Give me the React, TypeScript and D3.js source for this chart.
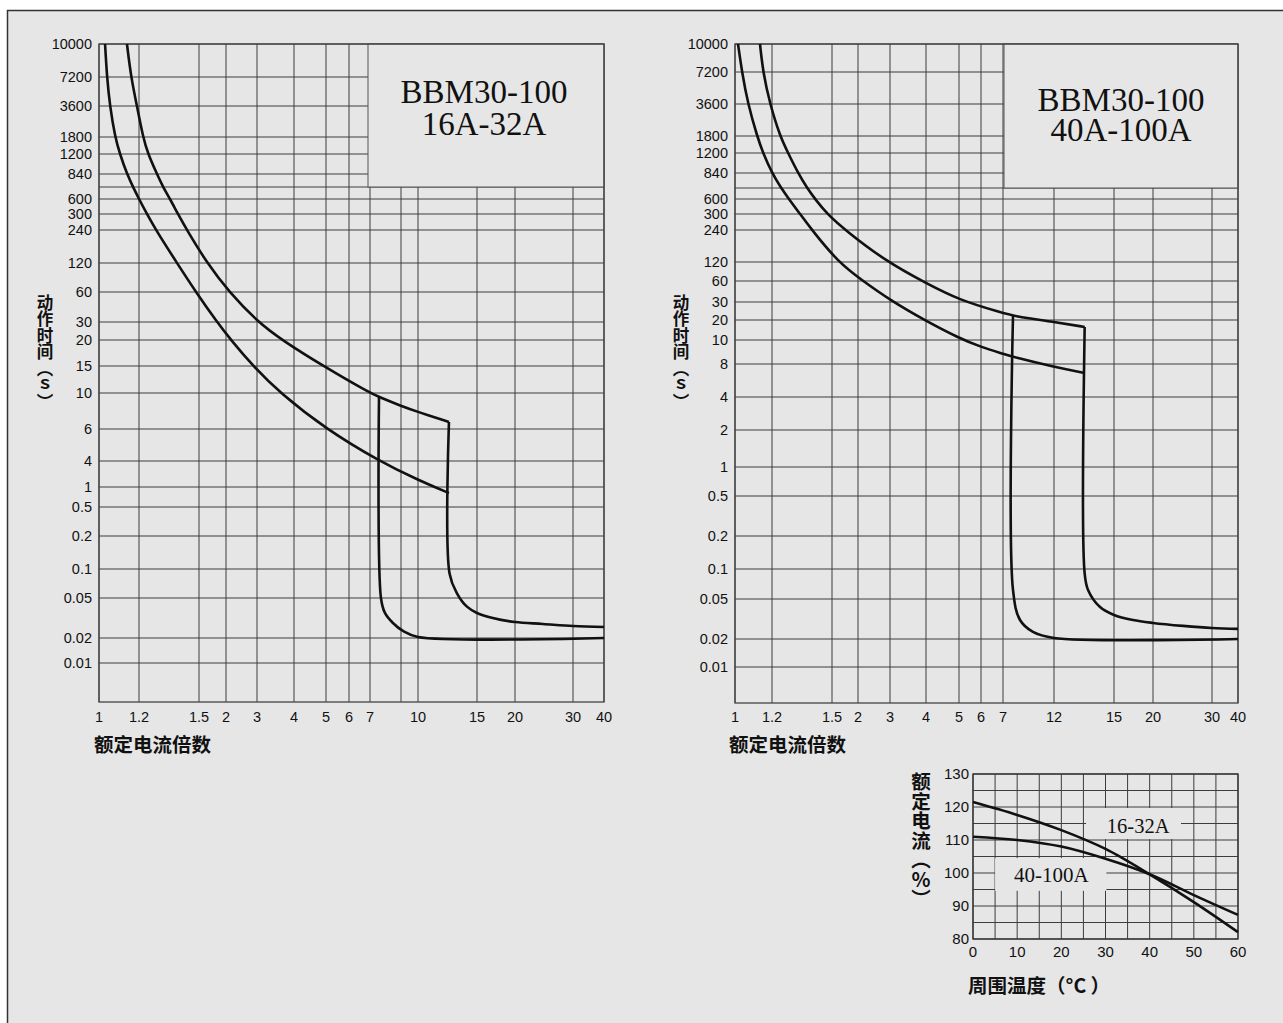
import React from 'react';
import * as d3 from 'd3';

// ---------------- data ----------------
// time-current chart, left (16A-32A)
const leftXTicks = [1, 1.2, 1.5, 2, 3, 4, 5, 6, 7, 9, 10, 15, 20, 30, 40];
const leftXLabels = ['1', '1.2', '1.5', '2', '3', '4', '5', '6', '7', '', '10', '15', '20', '30', '40'];
const leftYTicks = [10000, 7200, 3600, 1800, 1200, 840, 720, 600, 300, 240, 120, 60, 30, 20, 15, 10, 6, 4, 1, 0.5, 0.2, 0.1, 0.05, 0.02, 0.01];
const leftYLabels = ['10000', '7200', '3600', '1800', '1200', '840', '', '600', '300', '240', '120', '60', '30', '20', '15', '10', '6', '4', '1', '0.5', '0.2', '0.1', '0.05', '0.02', '0.01'];

// [multiple of rated current, seconds]
const leftUpper: [number, number][] = [[1.136, 10000], [1.157, 7200], [1.189, 3600], [1.218, 1800], [1.241, 1200], [1.283, 840], [1.312, 720], [1.347, 600], [1.387, 300], [1.434, 240], [1.633, 120], [2.08, 60], [3.02, 30], [3.64, 20], [4.9, 15], [7, 10], [7.53, 9.45], [9, 8.32], [10, 7.64], [12.37, 6.63]];
const leftUpperTail: [number, number][] = [[12.37, 6.63], [12.42, 0.09], [13.07, 0.056], [14.0, 0.041], [15, 0.0355], [16.9, 0.0316], [20, 0.0288], [24.3, 0.0276], [30, 0.0263], [40, 0.0257]];
const leftLower: [number, number][] = [[1.028, 10000], [1.037, 7200], [1.051, 3600], [1.076, 1800], [1.1, 1200], [1.136, 840], [1.168, 720], [1.2, 600], [1.236, 300], [1.278, 240], [1.382, 120], [1.483, 60], [1.817, 30], [2.135, 20], [2.847, 15], [3.588, 10], [5, 6], [7.53, 4], [10, 1.45], [12.37, 0.81]];
const leftInstant: [number, number][] = [[7.53, 9.45], [7.65, 0.05], [7.9, 0.0355], [8.43, 0.0282], [9.11, 0.0235], [10, 0.0205], [40, 0.02]];

// time-current chart, right (40A-100A)
const rightXTicks = [1, 1.2, 1.5, 2, 3, 4, 5, 6, 7, 12, 15, 20, 30, 40];
const rightXLabels = ['1', '1.2', '1.5', '2', '3', '4', '5', '6', '7', '12', '15', '20', '30', '40'];
const rightYTicks = [10000, 7200, 3600, 1800, 1200, 840, 720, 600, 300, 240, 120, 60, 30, 20, 10, 8, 4, 2, 1, 0.5, 0.2, 0.1, 0.05, 0.02, 0.01];
const rightYLabels = ['10000', '7200', '3600', '1800', '1200', '840', '', '600', '300', '240', '120', '60', '30', '20', '10', '8', '4', '2', '1', '0.5', '0.2', '0.1', '0.05', '0.02', '0.01'];

const rightUpper: [number, number][] = [[1.131, 10000], [1.148, 7200], [1.188, 3600], [1.236, 1800], [1.274, 1200], [1.322, 840], [1.367, 720], [1.408, 600], [1.473, 300], [1.732, 240], [2.888, 120], [4, 56], [5, 32], [7, 23.4], [7.78, 21.9], [12, 18.7], [13.45, 15.7]];
const rightUpperTail: [number, number][] = [[13.45, 15.7], [13.45, 0.09], [13.62, 0.0616], [14.24, 0.0416], [15, 0.0347], [17.25, 0.0309], [20, 0.0289], [24.6, 0.027], [30, 0.0257], [40, 0.0252]];
const rightLower: [number, number][] = [[1.015, 10000], [1.035, 7200], [1.066, 3600], [1.115, 1800], [1.148, 1200], [1.2, 840], [1.241, 720], [1.278, 600], [1.332, 300], [1.392, 240], [1.603, 120], [2.131, 60], [3, 32], [4, 19.3], [5, 10.7], [6, 9.37], [7, 8.8], [7.78, 8.54], [12, 7.51], [13.45, 6.62]];
const rightInstant: [number, number][] = [[7.78, 21.9], [7.78, 0.0616], [8.38, 0.0309], [9.61, 0.0235], [12, 0.0205], [40, 0.02]];

// derating chart
const tempX = [0, 10, 20, 30, 40, 50, 60];
const derating16to32 = [121.5, 117.6, 113, 107.3, 99.6, 91.2, 82.1];
const derating40to100 = [111, 110, 108, 104.3, 99.6, 93.3, 87.3];
const tempTicks = [0, 10, 20, 30, 40, 50, 60];
const pctTicks = [80, 90, 100, 110, 120, 130];

// ---------------- layout (printed, non-uniform axis spacing) ----------------
const leftLayout = {
  x0: 99, y0: 44, w: 505, h: 658,
  xOff: [0, 40, 100, 127, 158, 195, 227, 250, 271, 302, 319, 378, 416, 474, 505],
  yOff: [0, 33, 62, 93, 110, 130, 143, 155, 170, 186, 219, 248, 278, 296, 322, 349, 385, 417, 443, 463, 492, 525, 554, 594, 619],
  box: { x: 368, y: 44, w: 236, h: 143, cx: 484, l1: 103, l2: 135 },
  yTitleX: 45, xTitleX: 94,
};
const rightLayout = {
  x0: 735, y0: 44, w: 503, h: 659,
  xOff: [0, 37, 97, 123, 155, 191, 224, 246, 268, 319, 379, 418, 477, 503],
  yOff: [0, 28, 60, 92, 109, 129, 144, 155, 170, 186, 218, 237, 258, 276, 296, 320, 353, 386, 423, 452, 492, 525, 555, 595, 623],
  box: { x: 1004, y: 44, w: 234, h: 144, cx: 1121, l1: 111, l2: 141 },
  yTitleX: 681, xTitleX: 729,
};

const SANS = "'Liberation Sans', Arial, sans-serif";
const CJK = "'Noto Sans CJK SC', 'Noto Sans', sans-serif";
const SERIF = "'Liberation Serif', 'Times New Roman', serif";
const GRID = '#3c3c3c';
const BG = '#e6e6e6';
const INK = '#111';

function warp(values: number[], offsets: number[], origin: number) {
  const s = d3.scaleLinear().domain(values.map(Math.log10)).range(offsets.map(o => origin + o));
  return (v: number) => s(Math.log10(v));
}

function TripChart(props: any) {
  const { L, xTicks, xLabels, yTicks, yLabels, smooth, sharp, title2 } = props;
  const xs = warp(xTicks, L.xOff, L.x0);
  const ys = warp(yTicks, L.yOff, L.y0);
  const lineSmooth = d3.line<[number, number]>().x(d => xs(d[0])).y(d => ys(d[1])).curve(d3.curveBasis);
  const lineSharp = d3.line<[number, number]>().x(d => xs(d[0])).y(d => ys(d[1])).curve(d3.curveCatmullRom.alpha(0.5));
  const x1 = L.x0 + L.w, y1 = L.y0 + L.h;
  const b = L.box;
  return (
    <g>
      {xTicks.map((t: number, i: number) => (
        <line key={'vx' + i} x1={xs(t)} x2={xs(t)} y1={L.y0} y2={y1} stroke={GRID} strokeWidth={1} />
      ))}
      {yTicks.map((t: number, i: number) => (
        <line key={'hy' + i} x1={L.x0} x2={x1} y1={ys(t)} y2={ys(t)} stroke={GRID} strokeWidth={1} />
      ))}
      <rect x={b.x} y={b.y} width={b.w} height={b.h} fill={BG} stroke="#555" strokeWidth={1} />
      <rect x={L.x0} y={L.y0} width={L.w} height={L.h} fill="none" stroke="#444" strokeWidth={1.3} />
      <text textAnchor="middle" fontFamily={SERIF} fontSize={33} fill={INK}>
        <tspan x={b.cx} y={b.l1}>BBM30-100</tspan>
        <tspan x={b.cx} y={b.l2}>{title2}</tspan>
      </text>
      {smooth.map((c: [number, number][], i: number) => (
        <path key={'s' + i} d={lineSmooth(c) || ''} fill="none" stroke={INK} strokeWidth={2.6} strokeLinejoin="round" />
      ))}
      {sharp.map((c: [number, number][], i: number) => (
        <path key={'h' + i} d={lineSharp(c) || ''} fill="none" stroke={INK} strokeWidth={2.6} strokeLinejoin="round" />
      ))}
      {yTicks.map((t: number, i: number) => yLabels[i] ? (
        <text key={'yl' + i} x={L.x0 - 7} y={ys(t)} dy="0.36em" textAnchor="end" fontFamily={SANS} fontSize={14.5} fill={INK}>{yLabels[i]}</text>
      ) : null)}
      {xTicks.map((t: number, i: number) => xLabels[i] ? (
        <text key={'xl' + i} x={xs(t)} y={722} textAnchor="middle" fontFamily={SANS} fontSize={14.5} fill={INK}>{xLabels[i]}</text>
      ) : null)}
      <text x={L.xTitleX} y={752} fontFamily={CJK} fontWeight={600} fontSize={19.5} fill={INK}>额定电流倍数</text>
      <text x={L.yTitleX} y={294} fontFamily={CJK} fontWeight={600} fontSize={16.5} fill={INK} style={{ writingMode: 'vertical-rl' } as any}>动作时间（ｓ）</text>
    </g>
  );
}

function DeratingChart() {
  const x = d3.scaleLinear().domain([0, 60]).range([973, 1238]);
  const y = d3.scaleLinear().domain([80, 130]).range([939, 774]);
  const xGrid = d3.range(0, 61, 5);
  const yGrid = d3.range(80, 131, 5);
  const line = d3.line<number>().x((_, i) => x(tempX[i])).y(d => y(d)).curve(d3.curveCatmullRom.alpha(0.5));
  return (
    <g>
      {xGrid.map(t => <line key={'dx' + t} x1={x(t)} x2={x(t)} y1={y(130)} y2={y(80)} stroke={GRID} strokeWidth={1} />)}
      {yGrid.map(t => <line key={'dy' + t} x1={x(0)} x2={x(60)} y1={y(t)} y2={y(t)} stroke={GRID} strokeWidth={1} />)}
      <rect x={x(0)} y={y(130)} width={x(60) - x(0)} height={y(80) - y(130)} fill="none" stroke="#333" strokeWidth={1.3} />
      <rect x={x(25.6)} y={y(120) + 1} width={x(47.1) - x(25.6)} height={y(110.6) - y(120)} fill={BG} />
      <rect x={x(5)} y={y(104.5)} width={x(30.2) - x(5)} height={y(94.6) - y(104.5)} fill={BG} />
      <text x={x(30.3)} y={y(112.1)} fontFamily={SERIF} fontSize={20.5} fill={INK}>16-32A</text>
      <text x={x(9.3)} y={y(97.3)} fontFamily={SERIF} fontSize={21} fill={INK}>40-100A</text>
      <path d={line(derating16to32) || ''} fill="none" stroke={INK} strokeWidth={2.6} />
      <path d={line(derating40to100) || ''} fill="none" stroke={INK} strokeWidth={2.6} />
      {tempTicks.map(t => <text key={'tx' + t} x={x(t)} y={957} textAnchor="middle" fontFamily={SANS} fontSize={15} fill={INK}>{t}</text>)}
      {pctTicks.map(t => <text key={'ty' + t} x={969} y={y(t)} dy="0.36em" textAnchor="end" fontFamily={SANS} fontSize={15} fill={INK}>{t}</text>)}
      <text x={968} y={993} fontFamily={CJK} fontWeight={600} fontSize={19.5} fill={INK}>周围温度（°C ）</text>
      <text x={921} y={772} fontFamily={CJK} fontWeight={600} fontSize={19.5} fill={INK} style={{ writingMode: 'vertical-rl' } as any}>额定电流（％）</text>
    </g>
  );
}

export default function App() {
  return (
    <svg width={1283} height={1023} style={{ position: 'absolute', left: 0, top: 0, background: '#fff', display: 'block' }}>
      <rect x={7.5} y={10.5} width={1300} height={1100} fill={BG} stroke="#333" strokeWidth={1.5} />
      <TripChart L={leftLayout} xTicks={leftXTicks} xLabels={leftXLabels} yTicks={leftYTicks} yLabels={leftYLabels}
        smooth={[leftUpper, leftLower]} sharp={[leftUpperTail, leftInstant]} title2="16A-32A" />
      <TripChart L={rightLayout} xTicks={rightXTicks} xLabels={rightXLabels} yTicks={rightYTicks} yLabels={rightYLabels}
        smooth={[rightUpper, rightLower]} sharp={[rightUpperTail, rightInstant]} title2="40A-100A" />
      <DeratingChart />
    </svg>
  );
}
